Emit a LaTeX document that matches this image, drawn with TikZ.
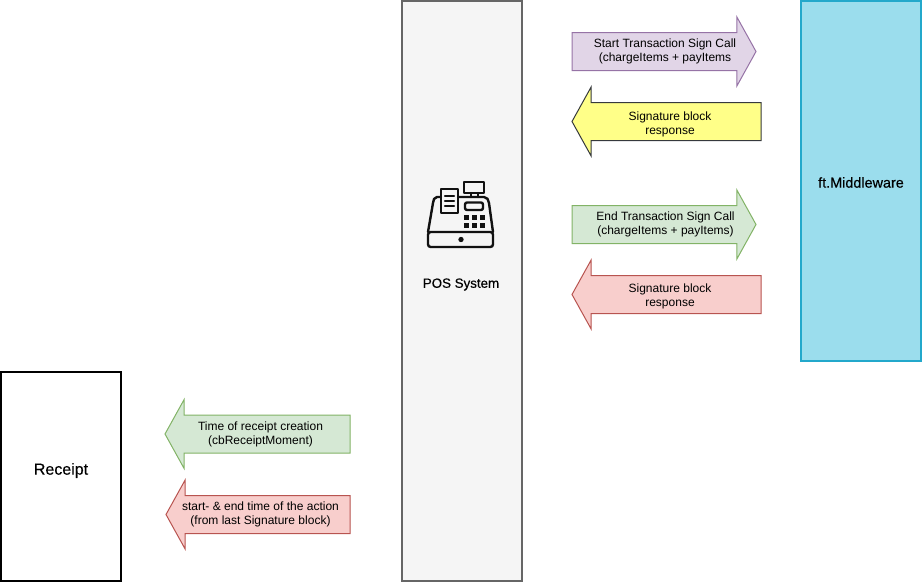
\documentclass[tikz,border=0pt]{standalone}
\usepackage{fontspec}
\setmainfont{Liberation Sans}
\newfontfamily\labelfont[FakeBold=0.4]{Liberation Sans}
\usetikzlibrary{shapes.arrows}
\definecolor{purplefill}{HTML}{E1D5E7}
\definecolor{purpleline}{HTML}{9673A6}
\definecolor{yellowfill}{HTML}{FFFF88}
\definecolor{yellowline}{HTML}{36393D}
\definecolor{greenfill}{HTML}{D5E8D4}
\definecolor{greenline}{HTML}{82B366}
\definecolor{redfill}{HTML}{F8CECC}
\definecolor{redline}{HTML}{B85450}
\definecolor{posfill}{HTML}{F5F5F5}
\definecolor{posline}{HTML}{666666}
\definecolor{mwfill}{HTML}{9BDDED}
\definecolor{mwline}{HTML}{23A8CB}
\definecolor{iconcol}{HTML}{111111}
\tikzset{
  block/.style={draw, line width=1.5pt, minimum width=90pt, outer sep=0pt, inner sep=0pt},
  block text/.style={inner sep=0pt, font=\labelfont\fontsize{#1}{12}\selectfont},
  sign arrow/.style={single arrow, draw, line width=0.75pt, inner sep=0pt, outer sep=0pt, minimum height=#1*0.75pt,
    single arrow head extend=11.6pt, single arrow tip angle=122, inner ysep=13.875pt, inner xsep=0pt},
  to right/.style={anchor=tail},
  to left/.style={anchor=tail, shape border rotate=180},
  arrow text/.style={align=center, inner sep=0pt, font=\fontsize{9}{10.7}\selectfont},
  icon line/.style={draw=iconcol, line width=1.8pt, line join=round, line cap=round},
}
\begin{document}
\begin{tikzpicture}[x=0.75pt, y=-0.75pt]
  \useasboundingbox (0,0) rectangle (922,582);

  \node[block, fill=white, draw=black, minimum height=156.75pt] (receipt) at (61.2,476.5) {};
  \node[block text=12] (receipttext) at (61,470.5) {Receipt};
  \node[block, fill=posfill, draw=posline, minimum height=435pt] (pos) at (462,291) {};
  \node[block text=10] (postext) at (461,284.5) {POS System};
  \node[block, fill=mwfill, draw=mwline, minimum height=270pt] (middleware) at (861,181) {};
  \node[block text=10.8] (middlewaretext) at (861,182.5) {ft.Middleware};

  % arrows to the middleware side
  \foreach \name/\xpos/\ypos/\len/\dir/\col in {
    startcall/572/51.5/184/to right/purple,
    firstsig/761/121.5/189/to left/yellow,
    endcall/572/224.5/184/to right/green,
    lastsig/761/294.5/189/to left/red,
    moment/350/434/185/to left/green,
    action/350/514.5/184/to left/red} {
    \node[sign arrow=\len, \dir, fill=\col fill, draw=\col line] (\name) at (\xpos,\ypos) {};
  }

  \node[arrow text] (startcalltext) at (665,51.5) {Start Transaction Sign Call\\(chargeItems + payItems};
  \node[arrow text] (firstsigtext) at (670,124.5) {Signature block\\response};
  \node[arrow text] (endcalltext) at (665.5,224.5) {End Transaction Sign Call\\(chargeItems + payItems)};
  \node[arrow text] (lastsigtext) at (670,296.5) {Signature block\\response};
  \node[arrow text] (momenttext) at (260.5,434.5) {Time of receipt creation\\(cbReceiptMoment)};
  \node[arrow text] (actiontext) at (260.5,514.5) {start- \& end time of the action\\(from last Signature block)};

  % cash register
  \draw[icon line] (464,182) rectangle (484,193);
  \draw[icon line] (471,193) -- (471,197) (478,193) -- (478,197);
  \draw[icon line] (458,197) -- (484,197) to[out=0,in=95] (489,203) -- (493,232);
  \draw[icon line] (441,197) -- (437,197) to[out=180,in=85] (433,203) -- (428,232);
  \draw[icon line, rounded corners=2pt] (428,232) -- (428,247) -- (493,247) -- (493,232) -- cycle;
  \draw[icon line] (441,189) rectangle (458,213);
  \draw[icon line] (445,196) -- (454,196) (445,201) -- (454,201) (445,206) -- (454,206);
  \draw[icon line, rounded corners=1.5pt] (465,202.5) rectangle (483,210);
  \foreach \col in {466,474,482} {
    \foreach \row in {217,225} {
      \fill[iconcol] (\col-2.5,\row-2.5) rectangle (\col+2.5,\row+2.5);
    }
  }
  \fill[iconcol] (461,239.5) circle (2pt);
\end{tikzpicture}
\end{document}
